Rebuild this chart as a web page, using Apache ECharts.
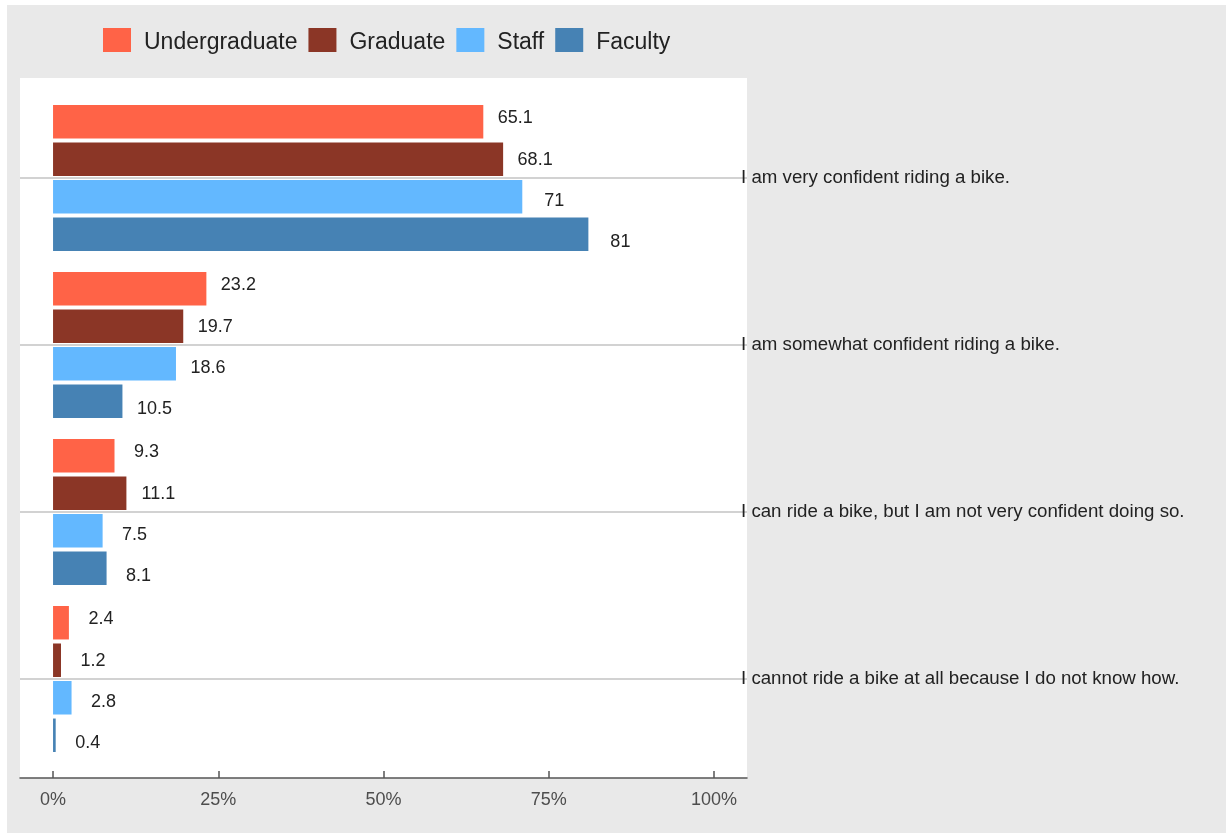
<!DOCTYPE html>
<html>
<head>
<meta charset="utf-8">
<script src="https://cdn.jsdelivr.net/npm/echarts@6/dist/echarts.min.js"></script>
<style>
  html, body { margin: 0; padding: 0; background: #fff; }
  #chart { width: 1226px; height: 833px; }
</style>
</head>
<body>
<div id="chart"></div>
<script>
const categories = [
  'I am very confident riding a bike.',
  'I am somewhat confident riding a bike.',
  'I can ride a bike, but I am not very confident doing so.',
  'I cannot ride a bike at all because I do not know how.',
]
const groups = ['Undergraduate', 'Graduate', 'Staff', 'Faculty']
const undergraduate = [65.1, 23.2, 9.3, 2.4]
const graduate = [68.1, 19.7, 11.1, 1.2]
const staff = [71, 18.6, 7.5, 2.8]
const faculty = [81, 10.5, 8.1, 0.4]
const xTicks = [0, 25, 50, 75, 100]

const colors = ['#ff6347', '#8b3626', '#63b8ff', '#4682b4']
const values = [undergraduate, graduate, staff, faculty]
const font = 'Liberation Sans, Arial, sans-serif'

// value labels are dodged a bit wider than the bars
const labelShiftY = [-3.2, 0.6, 4.4, 8.2]

const chart = echarts.init(document.getElementById('chart'))

chart.setOption({
  backgroundColor: '#fff',
  animation: false,
  graphic: [
    { type: 'rect', z: -20, shape: { x: 7, y: 5, width: 1219, height: 828 }, style: { fill: '#e9e9e9' } },
    { type: 'rect', z: -19, shape: { x: 20, y: 78, width: 727, height: 700 }, style: { fill: '#fff' } },
  ],
  legend: {
    data: groups,
    left: 103,
    top: 28,
    padding: 0,
    itemWidth: 28,
    itemHeight: 24,
    itemGap: 11,
    icon: 'rect',
    formatter: '{t|{name}}',
    textStyle: {
      fontFamily: font,
      fontSize: 23,
      color: '#222',
      rich: { t: { fontFamily: font, fontSize: 23, color: '#222', padding: [6, 0, 0, 8] } },
    },
  },
  grid: { left: 20, width: 727, top: 94.5, height: 668, outerBoundsMode: 'none' },
  xAxis: {
    type: 'value',
    min: -5,
    max: 105,
    offset: 15.5,
    splitLine: { show: false },
    axisLine: { show: true, lineStyle: { color: '#555', width: 1.5 } },
    axisTick: { show: true, inside: true, length: 7, customValues: xTicks, lineStyle: { color: '#555', width: 1.5 } },
    axisLabel: {
      customValues: xTicks,
      formatter: '{value}%',
      color: '#4d4d4d',
      fontFamily: font,
      fontSize: 18,
      margin: 13,
    },
  },
  yAxis: {
    type: 'category',
    data: categories,
    inverse: true,
    position: 'right',
    axisLine: { show: false, onZero: false },
    axisTick: { show: true, alignWithLabel: true, inside: true, length: 727, lineStyle: { color: '#c4c4c4', width: 1.5 } },
    axisLabel: { color: '#222', fontFamily: font, fontSize: 18.7, margin: -6 },
    splitLine: { show: false },
  },
  series: groups.map((name, i) => ({
    name,
    type: 'bar',
    data: values[i],
    barWidth: 33.5,
    barGap: '12%',
    itemStyle: { color: colors[i] },
    label: {
      show: true,
      position: ['100%', '50%'],
      offset: [32, labelShiftY[i]],
      align: 'center',
      verticalAlign: 'middle',
      color: '#222',
      fontFamily: font,
      fontSize: 18,
    },
  })),
})
</script>
</body>
</html>
